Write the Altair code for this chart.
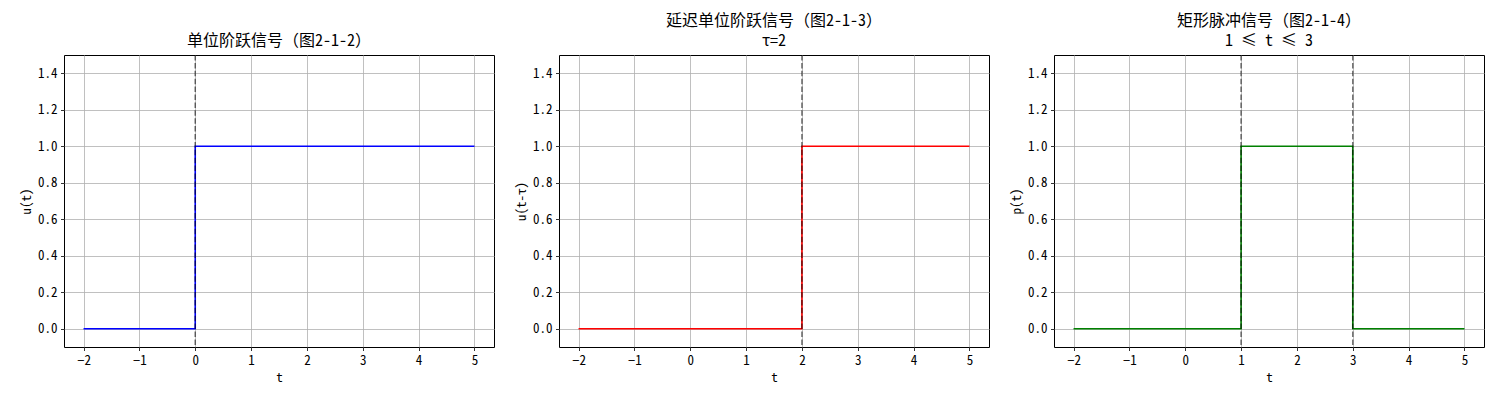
import altair as alt
import pandas as pd

# ---- data ----
x_ticks = [-2, -1, 0, 1, 2, 3, 4, 5]
y_ticks = [0.0, 0.2, 0.4, 0.6, 0.8, 1.0, 1.2, 1.4]

step_t = [-2, 0, 0, 5]
step_v = [0, 0, 1, 1]
step_edges = [0]

delay_t = [-2, 2, 2, 5]
delay_v = [0, 0, 1, 1]
delay_edges = [2]

pulse_t = [-2, 1, 1, 3, 3, 5]
pulse_v = [0, 0, 1, 1, 0, 0]
pulse_edges = [1, 3]

titles = [
    ["单位阶跃信号（图2-1-2）"],
    ["延迟单位阶跃信号（图2-1-3）", "τ=2"],
    ["矩形脉冲信号（图2-1-4）", "1 ≤ t ≤ 3"],
]
ylabels = ["u(t)", "u(t-τ)", "p(t)"]
colors = ["#0000ff", "#ff0000", "#008000"]

FONT = "Noto Sans Mono CJK SC, Noto Sans CJK SC"


def panel(ts, vs, edges, color, title, ylabel):
    df = pd.DataFrame({"t": ts, "v": vs, "i": list(range(len(ts)))})
    edf = pd.DataFrame({"t": edges})
    x_enc = alt.X(
        "t:Q",
        scale=alt.Scale(domain=[-2.35, 5.35], nice=False, zero=False),
        axis=alt.Axis(values=x_ticks, format="d", title="t"),
    )
    y_enc = alt.Y(
        "v:Q",
        scale=alt.Scale(domain=[-0.1, 1.5], nice=False, zero=False),
        axis=alt.Axis(values=y_ticks, format=".1f", title=ylabel),
    )
    line = alt.Chart(df).mark_line(color=color, strokeWidth=1.6).encode(
        x=x_enc, y=y_enc, order="i:Q"
    )
    rule = alt.Chart(edf).mark_rule(
        color="black", opacity=0.55, strokeWidth=1.5, strokeDash=[5.5, 2.4]
    ).encode(x=x_enc)
    return alt.layer(line, rule).properties(
        width=430,
        height=292,
        title=alt.TitleParams(text=title, anchor="middle"),
    )


charts = [
    panel(step_t, step_v, step_edges, colors[0], titles[0], ylabels[0]),
    panel(delay_t, delay_v, delay_edges, colors[1], titles[1], ylabels[1]),
    panel(pulse_t, pulse_v, pulse_edges, colors[2], titles[2], ylabels[2]),
]

chart = (
    alt.hconcat(*charts, spacing=65, bounds="flush")
    .properties(padding={"left": 12, "top": 4, "right": 5, "bottom": 5})
    .configure_view(stroke="black", strokeWidth=1)
    .configure_axis(
        domain=False,
        grid=True,
        gridColor="#b0b0b0",
        gridWidth=0.8,
        tickColor="black",
        tickSize=3.5,
        tickWidth=0.8,
        labelFont=FONT,
        labelFontSize=13,
        labelColor="black",
        labelPadding=3.5,
        titleFont=FONT,
        titleFontSize=13,
        titleFontWeight="normal",
        titleColor="black",
        titlePadding=4,
    )
    .configure_title(
        font=FONT,
        fontSize=16,
        fontWeight="normal",
        color="black",
        offset=5,
        lineHeight=20,
    )
)

chart.save("out.html", embed_options={"renderer": "svg", "actions": False})
